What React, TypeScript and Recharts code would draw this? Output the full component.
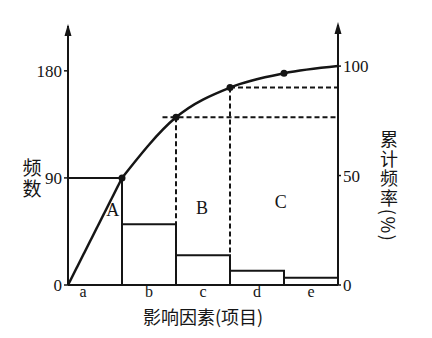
import React from 'react';
import { ComposedChart, Bar, Line, XAxis, YAxis, ReferenceLine, Scatter } from 'recharts';

// ---- data ----
const categories = ['a', 'b', 'c', 'd', 'e'];
const counts = [90, 51, 25, 12, 6];
const cumPositions = [0, 1, 2, 3, 4, 5];
const cumPercent = [0, 48.9, 76.6, 90.2, 96.7, 100];
const leftTicks = [0, 90, 180];
const rightTicks = [0, 50, 100];
const zoneLabels = ['A', 'B', 'C'];
const zoneX = [0.83, 2.48, 3.94];
const zoneY = [63, 65, 70];
const guideIdx = [2, 3];
const guideStartX = [1.75, 3];
const xTitle = '影响因素(项目)';
const leftTitle = '频数';
const rightTitle = '累计频率(%)';

const barData = categories.map((c, i) => ({ cat: c, count: counts[i] }));
const curve = cumPositions.map((x, i) => ({ x, pct: cumPercent[i] }));
const firstLeg = curve.slice(0, 2);
const restCurve = curve.slice(1);
const zones = zoneLabels.map((t, i) => ({ x: zoneX[i], y: zoneY[i], t }));

const INK = '#151515';
const SERIF = "'Liberation Serif', 'Times New Roman', serif";
const CJK = "'Noto Sans CJK SC', 'Noto Sans', sans-serif";

const LeftDecor = (props: any) => {
  const vb = props.viewBox;
  const ax = vb.x + vb.width;
  const top = vb.y;
  return (
    <g>
      <line x1={ax} y1={top - 2} x2={ax} y2={top + 4} stroke={INK} strokeWidth={2} />
      <path d={`M${ax} ${top - 4} L${ax - 3.5} ${top + 8} L${ax + 3.5} ${top + 8} Z`} fill={INK} />
      <text x={vb.x + 24} y={top + 130} style={{ writingMode: 'vertical-rl' as any, letterSpacing: 2 }}
        fontSize={19} fontFamily={CJK} fill={INK}>{leftTitle}</text>
    </g>
  );
};

const RightDecor = (props: any) => {
  const vb = props.viewBox;
  const ax = vb.x;
  const top = vb.y;
  return (
    <g>
      <line x1={ax} y1={top - 3} x2={ax} y2={top + 4} stroke={INK} strokeWidth={2} />
      <path d={`M${ax} ${top - 6} L${ax - 3.5} ${top + 6} L${ax + 3.5} ${top + 6} Z`} fill={INK} />
      <text x={ax + 51} y={top + 102} style={{ writingMode: 'vertical-rl' as any, letterSpacing: 1.7 }}
        fontSize={18} fontFamily={CJK} fill={INK}>{rightTitle}</text>
    </g>
  );
};

const XTitle = (props: any) => {
  const vb = props.viewBox;
  return (
    <text x={vb.x + vb.width / 2} y={vb.y + 39} textAnchor="middle" fontSize={18} fontFamily={CJK} fill={INK}>
      {xTitle}
    </text>
  );
};

const CatTick = (props: any) => {
  const { x, y, payload, index } = props;
  return (
    <text x={x + (index === 0 ? -12 : 0)} y={y + 10} textAnchor="middle" fontSize={16} fontFamily={SERIF} fill={INK}>
      {payload.value}
    </text>
  );
};

const ZoneText = (props: any) => (
  <text x={props.cx} y={props.cy} textAnchor="middle" dominantBaseline="central" fontSize={18}
    fontFamily={SERIF} fill={INK}>{props.payload.t}</text>
);

const CurveDot = (props: any) => {
  if (props.index >= restCurve.length - 1) return <g key={`d${props.index}`} />;
  return <circle key={`d${props.index}`} cx={props.cx} cy={props.cy} r={3.5} fill={INK} />;
};

export default function App() {
  return (
    <div style={{ position: 'absolute', left: 0, top: 0, background: '#fff' }}>
      <ComposedChart width={432} height={338} data={barData} barCategoryGap={0} barGap={0}
        margin={{ top: 28, right: 54, bottom: 13, left: 8 }}>
        <XAxis xAxisId="cat" dataKey="cat" type="category" height={40} tickSize={0} tickMargin={2}
          axisLine={{ stroke: INK, strokeWidth: 2 }} tickLine={false} tick={<CatTick />}
          label={{ content: XTitle }} />
        <XAxis xAxisId="num" dataKey="x" type="number" domain={[0, 5]} hide />
        <YAxis yAxisId="left" orientation="left" width={60} domain={[0, 216]} ticks={leftTicks}
          allowDataOverflow tickSize={4} tickMargin={2}
          axisLine={{ stroke: INK, strokeWidth: 2 }} tickLine={{ stroke: INK, strokeWidth: 1.5 }}
          tick={{ fill: INK, fontSize: 17, fontFamily: SERIF }} label={{ content: LeftDecor }} />
        <YAxis yAxisId="right" orientation="right" width={40} domain={[0, 117.4]} ticks={rightTicks}
          allowDataOverflow tickSize={3} tickMargin={2}
          axisLine={{ stroke: INK, strokeWidth: 2 }} tickLine={{ stroke: INK, strokeWidth: 1.5 }}
          tick={{ fill: INK, fontSize: 17, fontFamily: SERIF }} label={{ content: RightDecor }} />
        {guideIdx.map((gi, k) => (
          <ReferenceLine key={`v${k}`} xAxisId="num" yAxisId="right"
            segment={[{ x: cumPositions[gi], y: cumPercent[gi] }, { x: cumPositions[gi], y: 0 }]}
            stroke={INK} strokeWidth={2} strokeDasharray="5 3" />
        ))}
        {guideIdx.map((gi, k) => (
          <ReferenceLine key={`h${k}`} xAxisId="num" yAxisId="right"
            segment={[{ x: guideStartX[k], y: cumPercent[gi] }, { x: 5, y: cumPercent[gi] }]}
            stroke={INK} strokeWidth={2} strokeDasharray="5 3" />
        ))}
        <Bar xAxisId="cat" yAxisId="left" dataKey="count" fill="none" stroke={INK} strokeWidth={2}
          isAnimationActive={false} />
        <Line xAxisId="num" yAxisId="right" data={firstLeg} dataKey="pct" type="linear" stroke={INK}
          strokeWidth={2.5} dot={false} activeDot={false} isAnimationActive={false} />
        <Line xAxisId="num" yAxisId="right" data={restCurve} dataKey="pct" type="monotone" stroke={INK}
          strokeWidth={2.5} dot={CurveDot} activeDot={false} isAnimationActive={false} />
        <Scatter xAxisId="num" yAxisId="left" data={zones} dataKey="y" shape={ZoneText}
          isAnimationActive={false} />
      </ComposedChart>
    </div>
  );
}
